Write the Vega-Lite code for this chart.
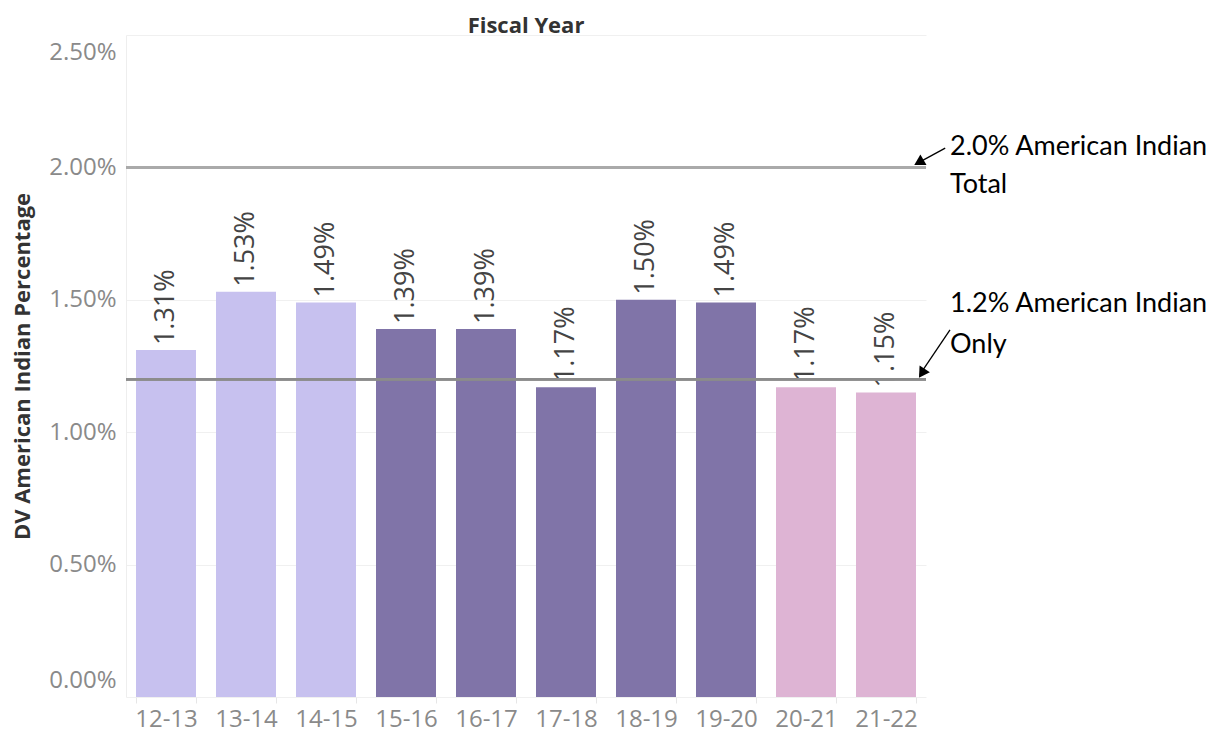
{
  "$schema": "https://vega.github.io/schema/vega-lite/v6.json",
  "width": 800,
  "height": 662,
  "autosize": {"type": "none"},
  "padding": {"left": 126, "top": 35, "right": 292, "bottom": 35},
  "background": "white",
  "config": {"view": {"stroke": null}, "font": "Open Sans"},
  "title": {"text": "Fiscal Year", "anchor": "middle", "frame": "group", "offset": 2, "dy": 5, "fontSize": 22, "fontWeight": "bold", "color": "#333333", "font": "Open Sans"},
  "datasets": {
    "bars": [
      {"year": "12-13", "pct": 0.0131, "period": "early"},
      {"year": "13-14", "pct": 0.0153, "period": "early"},
      {"year": "14-15", "pct": 0.0149, "period": "early"},
      {"year": "15-16", "pct": 0.0139, "period": "middle"},
      {"year": "16-17", "pct": 0.0139, "period": "middle"},
      {"year": "17-18", "pct": 0.0117, "period": "middle"},
      {"year": "18-19", "pct": 0.0150, "period": "middle"},
      {"year": "19-20", "pct": 0.0149, "period": "middle"},
      {"year": "20-21", "pct": 0.0117, "period": "late"},
      {"year": "21-22", "pct": 0.0115, "period": "late"}
    ],
    "notes": [
      {"ax": 10.3, "ay": 0.02076, "label": "2.0% American Indian"},
      {"ax": 10.3, "ay": 0.01934, "label": "Total"},
      {"ax": 10.3, "ay": 0.01484, "label": "1.2% American Indian"},
      {"ax": 10.3, "ay": 0.01329, "label": "Only"}
    ],
    "arrows": [
      {"arrow": "total", "x1": 10.24, "y1": 0.02073, "x2": 9.93, "y2": 0.02022},
      {"arrow": "only", "x1": 10.30, "y1": 0.01386, "x2": 9.95, "y2": 0.01230}
    ],
    "tips": [
      {"arrow": "total", "tx": 9.93, "ty": 0.02022},
      {"arrow": "only", "tx": 9.96, "ty": 0.01228}
    ]
  },
  "resolve": {"scale": {"x": "independent"}},
  "layer": [
    {
      "data": {"name": "bars"},
      "layer": [
        {
          "mark": {"type": "bar"},
          "encoding": {
            "x": {"field": "year", "type": "nominal", "sort": null, "scale": {"paddingInner": 0.25, "paddingOuter": 0.125},
              "axis": {"title": null, "labelAngle": 0, "labelFontSize": 24, "labelColor": "#8a8a8a", "labelPadding": 4, "domain": false, "ticks": true, "tickColor": "#e6e6e6", "tickSize": 6, "tickBand": "extent", "grid": false}},
            "y": {"field": "pct", "type": "quantitative", "scale": {"domain": [0, 0.025], "nice": false},
              "axis": {"title": "DV American Indian Percentage", "titleFontSize": 22, "titleFontWeight": "bold", "titleColor": "#333333", "titlePadding": 14,
                "format": ".2%", "values": [0, 0.005, 0.01, 0.015, 0.02, 0.025], "labelFontSize": 24, "labelColor": "#8a8a8a", "labelPadding": 10, "labelFlush": true, "labelFlushOffset": -5,
                "ticks": false, "domain": true, "domainColor": "#eeeeee", "gridColor": "#f0f0f0", "gridWidth": 1}},
            "color": {"field": "period", "type": "nominal", "legend": null,
              "scale": {"domain": ["early", "middle", "late"], "range": ["#c7c1ef", "#8074a8", "#deb4d4"]}}
          }
        },
        {
          "mark": {"type": "text", "angle": -90, "align": "left", "baseline": "middle", "dx": 5, "fontSize": 27, "color": "#444444", "font": "Open Sans"},
          "encoding": {
            "x": {"field": "year", "type": "nominal", "sort": null},
            "y": {"field": "pct", "type": "quantitative"},
            "text": {"field": "pct", "type": "quantitative", "format": ".2%"}
          }
        },
        {
          "mark": {"type": "rule", "color": "#aaaaaa", "strokeWidth": 2},
          "encoding": {"y": {"datum": 0.02}}
        },
        {
          "mark": {"type": "rule", "color": "#8c8c8c", "strokeWidth": 2},
          "encoding": {"y": {"datum": 0.012}}
        }
      ]
    },
    {
      "layer": [
        {
          "data": {"name": "notes"},
          "mark": {"type": "text", "align": "left", "baseline": "middle", "fontSize": 27, "color": "#000000", "font": "Lato", "clip": false},
          "encoding": {
            "x": {"field": "ax", "type": "quantitative", "scale": {"domain": [0, 10], "nice": false, "zero": false}, "axis": null},
            "y": {"field": "ay", "type": "quantitative"},
            "text": {"field": "label", "type": "nominal"}
          }
        },
        {
          "data": {"name": "arrows"},
          "mark": {"type": "rule", "color": "#000000", "strokeWidth": 1.3},
          "encoding": {
            "x": {"field": "x1", "type": "quantitative", "scale": {"domain": [0, 10], "nice": false, "zero": false}, "axis": null},
            "x2": {"field": "x2"},
            "y": {"field": "y1", "type": "quantitative"},
            "y2": {"field": "y2"}
          }
        },
        {
          "data": {"name": "tips"},
          "transform": [{"filter": "datum.arrow == 'total'"}],
          "mark": {"type": "point", "shape": "triangle", "filled": true, "color": "#000000", "opacity": 1, "size": 150, "angle": 240},
          "encoding": {
            "x": {"field": "tx", "type": "quantitative", "scale": {"domain": [0, 10], "nice": false, "zero": false}, "axis": null},
            "y": {"field": "ty", "type": "quantitative"}
          }
        },
        {
          "data": {"name": "tips"},
          "transform": [{"filter": "datum.arrow == 'only'"}],
          "mark": {"type": "point", "shape": "triangle", "filled": true, "color": "#000000", "opacity": 1, "size": 150, "angle": 213},
          "encoding": {
            "x": {"field": "tx", "type": "quantitative", "scale": {"domain": [0, 10], "nice": false, "zero": false}, "axis": null},
            "y": {"field": "ty", "type": "quantitative"}
          }
        }
      ]
    }
  ]
}
